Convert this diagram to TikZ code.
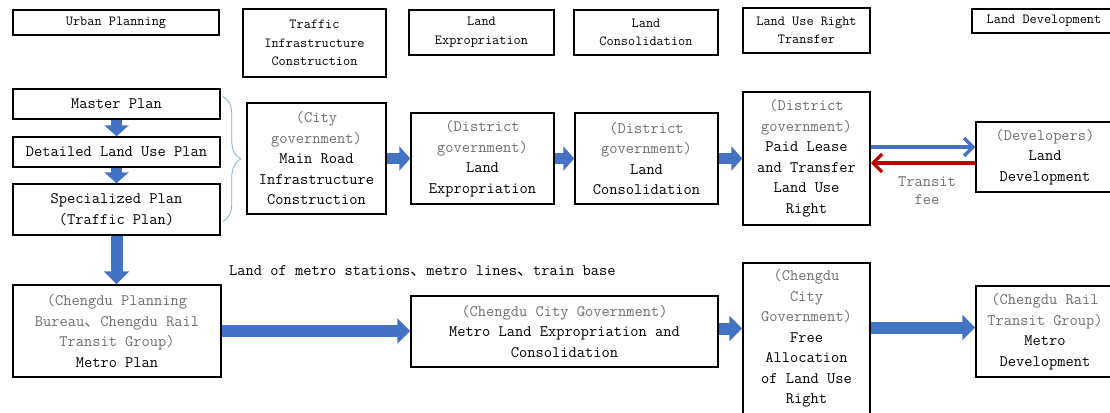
\documentclass[tikz,border=0pt]{standalone}
\usepackage{fontspec}
\newfontfamily\cjkfont{Noto Sans CJK SC}
\usetikzlibrary{arrows.meta,decorations.pathreplacing}

\definecolor{flowblue}{HTML}{4472C4}
\definecolor{feered}{HTML}{C00000}
\definecolor{govgray}{HTML}{6E6E6E}
\definecolor{bracecol}{HTML}{8EA9DB}

% agency names are set in grey
\newcommand\agency[1]{\textcolor{govgray}{#1}}
% ideographic enumeration comma
\newcommand\dunhao{{\cjkfont 、}}

\tikzset{
  box/.style={draw=black, line width=1.5pt, fill=white, align=center,
              inner sep=0pt, font=\ttfamily\fontsize{16}{20.5}\selectfont},
  headbox/.style={box, font=\ttfamily\fontsize{13.9}{18.5}\selectfont},
  flow/.style={draw=flowblue, line width=11pt,
               -{Triangle[length=11pt,width=24pt]}},
  bigflow/.style={draw=flowblue, line width=12pt,
               -{Triangle[length=13pt,width=25pt]}},
  thinflow/.style={line width=3.2pt, -{Straight Barb[length=9pt,width=18pt]}},
}

\begin{document}
\begin{tikzpicture}[x=1pt,y=-1pt]
\useasboundingbox (0,0) rectangle (1110,412);
\clip (0,0) rectangle (1110,412);

% column headings
\node[headbox, minimum width=206, minimum height=25] (hUP)  at (116,22.5) {Urban Planning};
\node[headbox, minimum width=143, minimum height=68] (hTIC) at (314.5,43) {Traffic\\Infrastructure\\Construction};
\node[headbox, minimum width=145, minimum height=45] (hLE)  at (481.5,32.5) {Land\\Expropriation};
\node[headbox, minimum width=144, minimum height=45] (hLC)  at (646,32.5) {Land\\Consolidation};
\node[headbox, minimum width=127, minimum height=45] (hLUR) at (806.5,30.5) {Land Use Right\\Transfer};
\node[headbox, minimum width=144, minimum height=24] (hLD)  at (1044,21) {Land Development};

% planning chain
\node[box, minimum width=207, minimum height=30] (mp)   at (116.5,104) {Master Plan};
\node[box, minimum width=207, minimum height=30] (dlup) at (116.5,152) {Detailed Land Use Plan};
\node[box, minimum width=207, minimum height=51] (sp)   at (116.5,209.5) {Specialized Plan\\(Traffic Plan)};

% land development chain
\node[box, minimum width=139, minimum height=111] (city) at (316.5,158.5)
  {\agency{(City}\\\agency{government)}\\Main Road\\Infrastructure\\Construction};
\node[box, minimum width=143, minimum height=91] (lexp) at (482.5,158.5)
  {\agency{(District}\\\agency{government)}\\Land\\Expropriation};
\node[box, minimum width=143, minimum height=91] (lcon) at (646.5,158.5)
  {\agency{(District}\\\agency{government)}\\Land\\Consolidation};
\node[box, minimum width=127, minimum height=133] (plt) at (806.5,158.5)
  {\agency{(District}\\\agency{government)}\\Paid Lease\\and Transfer\\Land Use\\Right};
\node[box, minimum width=138, minimum height=70] (dev) at (1045,157)
  {\agency{(Developers)}\\Land\\Development};

% metro chain
\node[box, minimum width=208, minimum height=92] (metp) at (117,331)
  {\agency{(Chengdu Planning}\\\agency{Bureau\dunhao Chengdu Rail}\\\agency{Transit Group)}\\Metro Plan};
\node[box, minimum width=307, minimum height=71] (mlec) at (564.5,331.5)
  {\agency{(Chengdu City Government)}\\Metro Land Expropriation and\\Consolidation};
\node[box, minimum width=127, minimum height=151] (fa) at (806.5,338.5)
  {\agency{(Chengdu}\\\agency{City}\\\agency{Government)}\\Free\\Allocation\\of Land Use\\Right};
\node[box, minimum width=138, minimum height=91] (metd) at (1045,331.5)
  {\agency{(Chengdu Rail}\\\agency{Transit Group)}\\Metro\\Development};

% free texts
\node[anchor=west, inner sep=0pt, font=\ttfamily\fontsize{16}{18}\selectfont] (metroland) at (229,271)
  {Land of metro stations\dunhao metro lines\dunhao train base};
\node[align=center, inner sep=0pt, text=govgray, font=\ttfamily\fontsize{16}{18}\selectfont] (fee) at (927,191)
  {Transit\\fee};

% brace grouping the plans
\draw[bracecol, line width=0.8pt, decorate, decoration={brace, amplitude=18pt}]
  ([xshift=2pt,yshift=-8pt]mp.north east) -- ([xshift=2pt,yshift=14pt]sp.south east);

% flow arrows
\draw[flow] (mp.south) -- (dlup.north);
\draw[flow] (dlup.south) -- (sp.north);
\draw[flow] (city.east) -- (lexp.west);
\draw[flow] (lexp.east) -- (lcon.west);
\draw[flow] (lcon.east) -- (plt.west);
\draw[bigflow] (sp.south) -- (sp.south |- metp.north);
\draw[bigflow] (metp.east) -- (metp.east -| mlec.west);
\draw[bigflow] ([yshift=3pt]mlec.east) -- ([yshift=3pt]mlec.east -| fa.west);
\draw[bigflow] ([yshift=4pt]metd.west -| fa.east) -- ([yshift=4pt]metd.west);

% land use right and transit fee
\draw[thinflow, flowblue] ([yshift=11.5pt]plt.east) -- ([yshift=11.5pt]plt.east -| dev.west);
\draw[thinflow, feered] ([yshift=-6pt]dev.west) -- ([yshift=-6pt]dev.west -| plt.east);
\end{tikzpicture}
\end{document}
